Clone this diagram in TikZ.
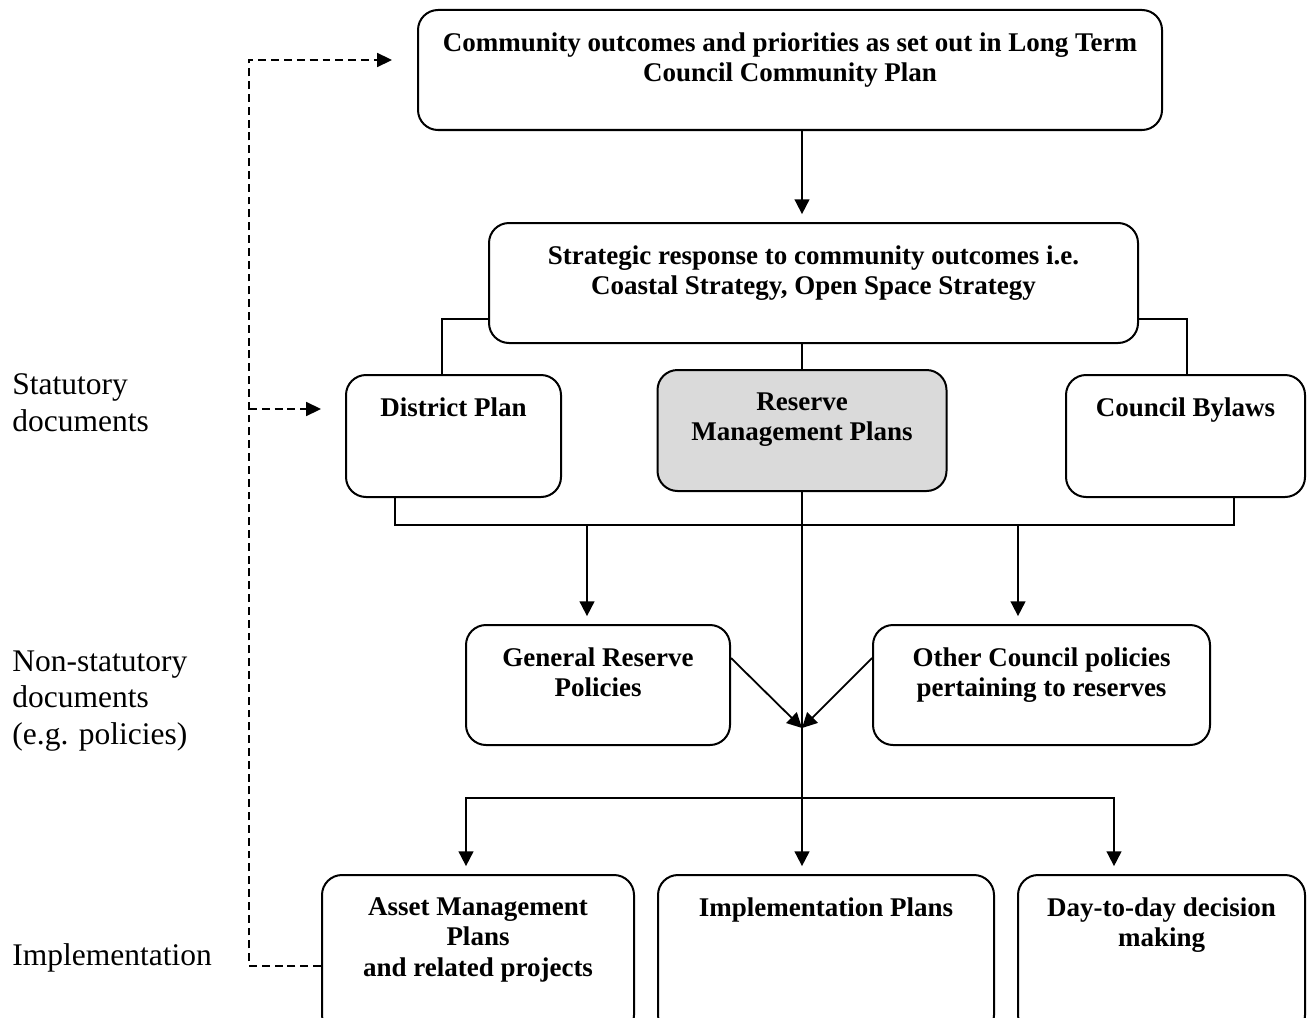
\documentclass[tikz,border=0pt]{standalone}
\usepackage{fontspec}
\setmainfont{Liberation Serif}
\usetikzlibrary{positioning,arrows.meta,calc}
\newlength\px
\setlength\px{0.4445pt}
\definecolor{ReserveGrey}{RGB}{218,218,218}
\tikzset{
  link/.style={line width=0.8pt,draw=black},
  flow/.style={link,-{Triangle[length=6.6pt,width=6.6pt]},shorten >=3.5pt},
  meetflow/.style={link,-{Triangle[length=6.6pt,width=6.6pt]}},
  dashflow/.style={link,dash pattern=on 3.5pt off 2.2pt,-{Triangle[length=6.6pt,width=6.2pt]}},
  box/.style={draw=black,line width=0.89pt,rounded corners=8.9pt,inner sep=0pt,fill=white},
  greybox/.style={box,fill=ReserveGrey},
  boxtext/.style={font=\fontsize{12}{13.6}\selectfont\bfseries,align=center,inner sep=0pt},
  side/.style={font=\fontsize{14}{16.4}\selectfont,align=left,inner sep=0pt,anchor=north west}
}
\begin{document}
\begin{tikzpicture}[x=1\px,y=-1\px]
  \useasboundingbox (0,0) rectangle (1310,1017);
  \clip (0,0) rectangle (1310,1017);

  \node[box,minimum width=744\px,minimum height=120\px] (plan) at (790,70) {};
  \node[box,minimum width=649\px,minimum height=120\px] (strat) at (813.5,283) {};
  \node[box,minimum width=215\px,minimum height=122\px] (dist) at (453.5,436) {};
  \node[greybox,minimum width=289\px,minimum height=121\px] (rmp) at (802,430.5) {};
  \node[box,minimum width=239\px,minimum height=122\px] (bylaw) at (1185.5,436) {};
  \node[box,minimum width=264\px,minimum height=120\px] (grp) at (598,685) {};
  \node[box,minimum width=337\px,minimum height=120\px] (ocp) at (1041.5,685) {};
  \node[box,minimum width=312\px,minimum height=160\px] (amp) at (478,955) {};
  \node[box,minimum width=336\px,minimum height=160\px] (impl) at (826,955) {};
  \node[box,minimum width=287\px,minimum height=160\px] (day) at (1161.5,955) {};

  \node[boxtext,below=23\px of plan.north] (plan-txt) {Community outcomes and priorities as set out in Long Term\\Council Community Plan};
  \node[boxtext,below=23\px of strat.north] (strat-txt) {Strategic response to community outcomes i.e.\\Coastal Strategy, Open Space Strategy};
  \node[boxtext,below=23\px of dist.north] (dist-txt) {District Plan};
  \node[boxtext,below=23\px of rmp.north] (rmp-txt) {Reserve\\Management Plans};
  \node[boxtext,below=23\px of bylaw.north] (bylaw-txt) {Council Bylaws};
  \node[boxtext,below=23\px of grp.north] (grp-txt) {General Reserve\\Policies};
  \node[boxtext,below=23\px of ocp.north] (ocp-txt) {Other Council policies\\pertaining to reserves};
  \node[boxtext,below=23\px of amp.north] (amp-txt) {Asset Management\\Plans\\and related projects};
  \node[boxtext,below=23\px of impl.north] (impl-txt) {Implementation Plans};
  \node[boxtext,below=23\px of day.north] (day-txt) {Day-to-day decision\\making};

  \node[side] (stat-lbl) at (12,373) {Statutory\\documents};
  \node[side] (nonstat-lbl) at (12,650) {Non-statutory\\documents\\(e.g. policies)};
  \node[side] (impl-lbl) at (12,943) {Implementation};

  \coordinate (rail) at (249,0);
  \coordinate (meet) at (802,728);
  \coordinate (fork) at (802,798);

  \draw[flow] (plan.south -| rmp.north) -- (strat.north -| rmp.north);
  \draw[link] ([yshift=-36\px]strat.west) -| ([xshift=-11.5\px]dist.north);
  \draw[link] ([yshift=-36\px]strat.east) -| ([xshift=1.5\px]bylaw.north);
  \draw[link] (strat.south -| rmp.north) -- (rmp.north);
  \draw[link] ([xshift=-58.5\px]dist.south) -- ++(0,27) coordinate (bus) -| ([xshift=48.5\px]bylaw.south);
  \draw[flow] ([xshift=-11\px]grp.north |- bus) -- ([xshift=-11\px]grp.north);
  \draw[flow] ([xshift=-23.5\px]ocp.north |- bus) -- ([xshift=-23.5\px]ocp.north);
  \draw[flow] (rmp.south) -- (rmp.south |- impl.north);
  \draw[meetflow] ([yshift=27\px]grp.east) -- (meet);
  \draw[meetflow] ([yshift=27\px]ocp.west) -- (meet);
  \draw[flow] (fork) -| ([xshift=-12\px]amp.north);
  \draw[flow] (fork) -| ([xshift=-47.5\px]day.north);
  \draw[dashflow] ([yshift=-11\px]amp.west) -| ([yshift=10\px]plan.west -| rail) -- ([yshift=10\px,xshift=-25\px]plan.west);
  \draw[dashflow] ([yshift=27\px]dist.west -| rail) -- ([yshift=27\px,xshift=-24\px]dist.west);
\end{tikzpicture}
\end{document}
